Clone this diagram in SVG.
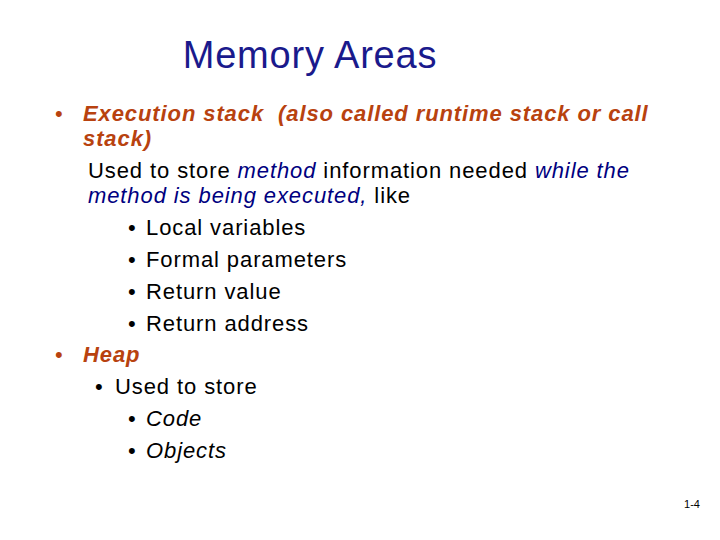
<svg xmlns="http://www.w3.org/2000/svg" width="720" height="540" viewBox="0 0 720 540">
<style>
text{font-family:"Liberation Sans",Arial,sans-serif;font-size:22px;letter-spacing:0.9px;fill:#000}
.h{fill:#b8420f;font-weight:bold;font-style:italic}
.b{fill:#000080;font-style:italic}
.i{font-style:italic}
</style>
<rect width="720" height="540" fill="#fff"/>
<text x="310" y="68" text-anchor="middle" style="font-size:38px;letter-spacing:0.8px;fill:#1a1a8c">Memory Areas</text>
<text x="55" y="121" style="fill:#b8420f">•</text><text x="83" y="121" class="h" xml:space="preserve">Execution stack  (also called runtime stack or call</text>
<text x="83" y="146" class="h">stack)</text>
<text x="88" y="178">Used to store <tspan class="b">method</tspan> information needed <tspan class="b">while the</tspan></text>
<text x="88" y="203"><tspan class="b">method is being executed,</tspan> like</text>
<text x="128" y="235">•</text><text x="146" y="235">Local variables</text>
<text x="128" y="267">•</text><text x="146" y="267">Formal parameters</text>
<text x="128" y="299">•</text><text x="146" y="299">Return value</text>
<text x="128" y="331">•</text><text x="146" y="331">Return address</text>
<text x="55" y="362" style="fill:#b8420f">•</text><text x="83" y="362" class="h">Heap</text>
<text x="95" y="394">•</text><text x="115" y="394">Used to store</text>
<text x="128" y="426">•</text><text x="146" y="426" class="i">Code</text>
<text x="128" y="458">•</text><text x="146" y="458" class="i">Objects</text>
<text x="700" y="508" text-anchor="end" style="font-size:11px;letter-spacing:0">1-4</text>
</svg>
